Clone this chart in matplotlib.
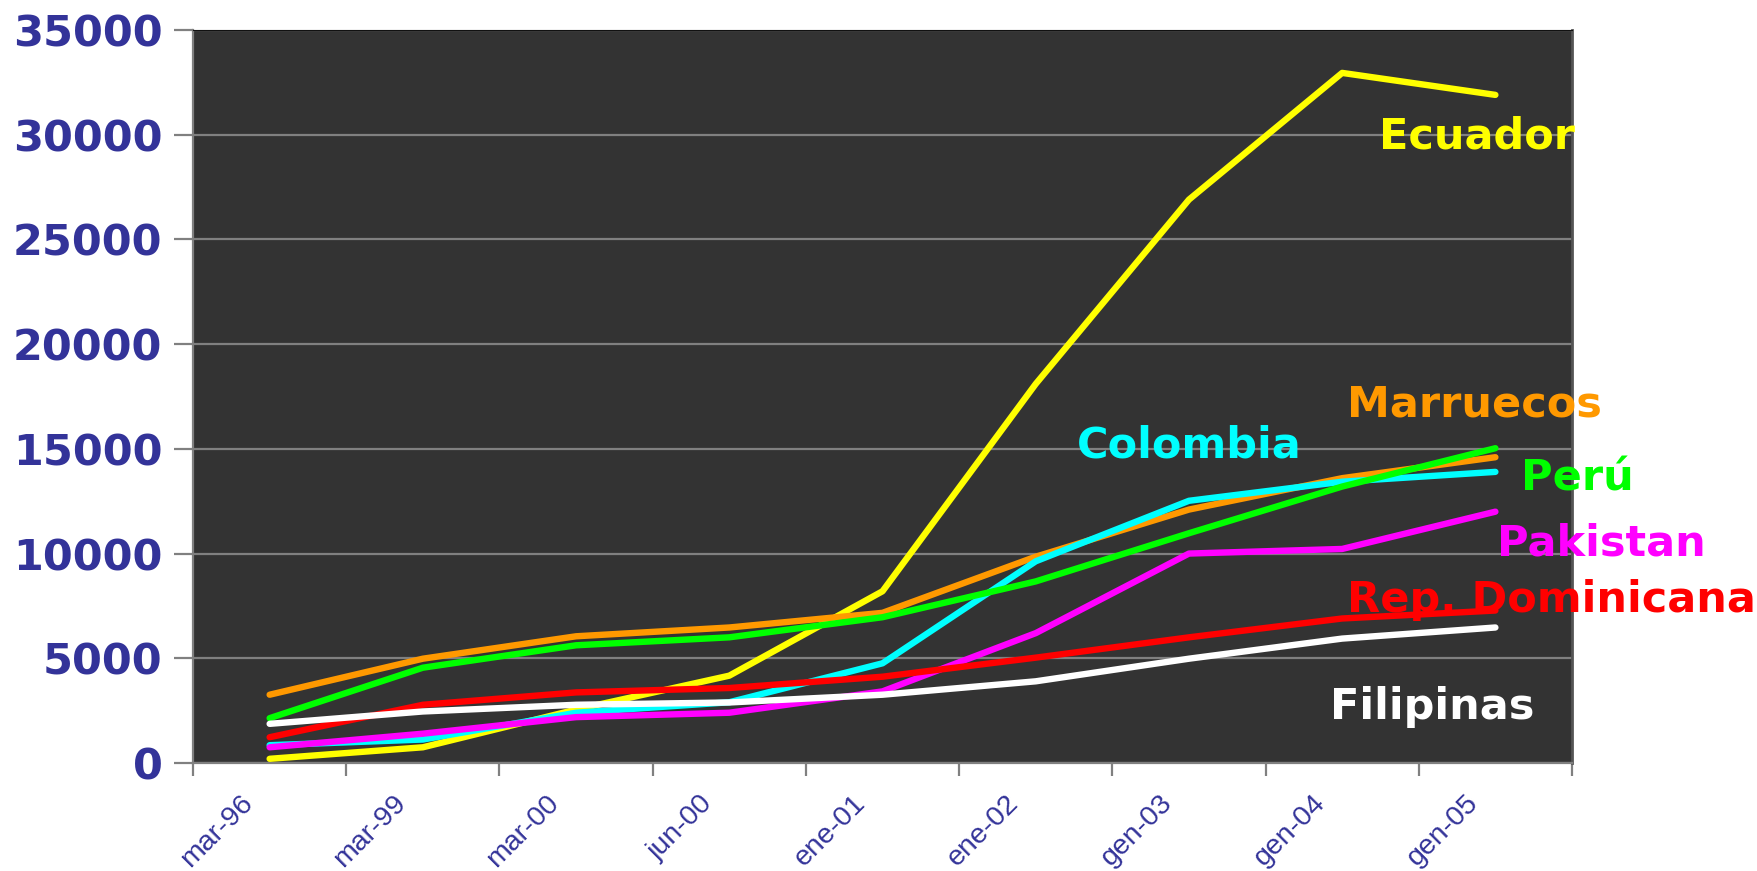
import matplotlib.pyplot as plt
from matplotlib.transforms import ScaledTranslation

# fechas (categorías del eje x)
fechas = ['mar-96', 'mar-99', 'mar-00', 'jun-00', 'ene-01', 'ene-02', 'gen-03', 'gen-04', 'gen-05']

ecuador = [200, 750, 2550, 4170, 8200, 18100, 26900, 32950, 31900]
marruecos = [3260, 4980, 6050, 6470, 7170, 9850, 12100, 13600, 14600]
colombia = [850, 1120, 2400, 2900, 4760, 9630, 12520, 13430, 13900]
peru = [2140, 4550, 5620, 6000, 6960, 8670, 10970, 13200, 15030]
pakistan = [750, 1400, 2190, 2400, 3420, 6200, 10000, 10220, 12000]
rep_dominicana = [1230, 2780, 3370, 3580, 4120, 5030, 6000, 6900, 7280]
filipinas = [1870, 2460, 2780, 2890, 3260, 3900, 4980, 5940, 6470]

series = [
    ('Ecuador', ecuador, '#FFFF00', 7.24, 29900),
    ('Marruecos', marruecos, '#FF9900', 7.03, 17120),
    ('Colombia', colombia, '#00FFFF', 5.27, 15140),
    ('Perú', peru, '#00FF00', 8.17, 13590),
    ('Pakistan', pakistan, '#FF00FF', 8.01, 10490),
    ('Rep. Dominicana', rep_dominicana, '#FF0000', 7.03, 7760),
    ('Filipinas', filipinas, '#FFFFFF', 6.92, 2680),
]

azul = '#333399'
gris = '#808080'

fig = plt.figure(figsize=(17.58, 8.71), dpi=100)
ax = fig.add_axes([0.1098, 0.124, 0.7844, 0.8416])
ax.set_facecolor('#333333')

x = list(range(len(fechas)))
for nombre, valores, color, tx, ty in series:
    ax.plot(x, valores, color=color, lw=4.6, solid_capstyle='round', zorder=3)
for nombre, valores, color, tx, ty in series:
    ax.text(tx, ty, nombre, color=color, fontsize=31, fontweight='bold',
            family='DejaVu Sans', ha='left', va='center', zorder=5, clip_on=False)

ax.set_xlim(-0.5, len(fechas) - 0.5)
ax.set_ylim(0, 35000)
ax.set_yticks(range(0, 35001, 5000))
ax.set_yticklabels([str(v) for v in range(0, 35001, 5000)],
                   fontsize=31, fontweight='bold', color=azul)
ax.yaxis.grid(True, color=gris, lw=1.6, zorder=1)
ax.set_axisbelow(True)

# marcas en los límites de categoría
ax.set_xticks([i - 0.5 for i in range(len(fechas) + 1)])
ax.set_xticklabels([])
ax.tick_params(axis='x', length=9, width=1.6, color=gris)
ax.tick_params(axis='y', length=14, width=1.6, color=gris, pad=8)

# etiquetas de fecha giradas, bajo el centro de cada categoría
desplaza = ScaledTranslation(-30 / 100, -27 / 100, fig.dpi_scale_trans)
for i, f in enumerate(fechas):
    ax.text(i, 0, f, transform=ax.get_xaxis_transform() + desplaza,
            rotation=45, rotation_mode='anchor', ha='right', va='top',
            fontsize=20.5, color=azul, family='Liberation Sans', clip_on=False)

for lado in ['left', 'bottom']:
    ax.spines[lado].set_color(gris)
    ax.spines[lado].set_linewidth(1.6)
ax.spines['top'].set_color('#111111')
ax.spines['right'].set_color('#555555')
ax.spines['right'].set_linewidth(2)

fig.savefig('out.png', dpi=100, facecolor='white')
